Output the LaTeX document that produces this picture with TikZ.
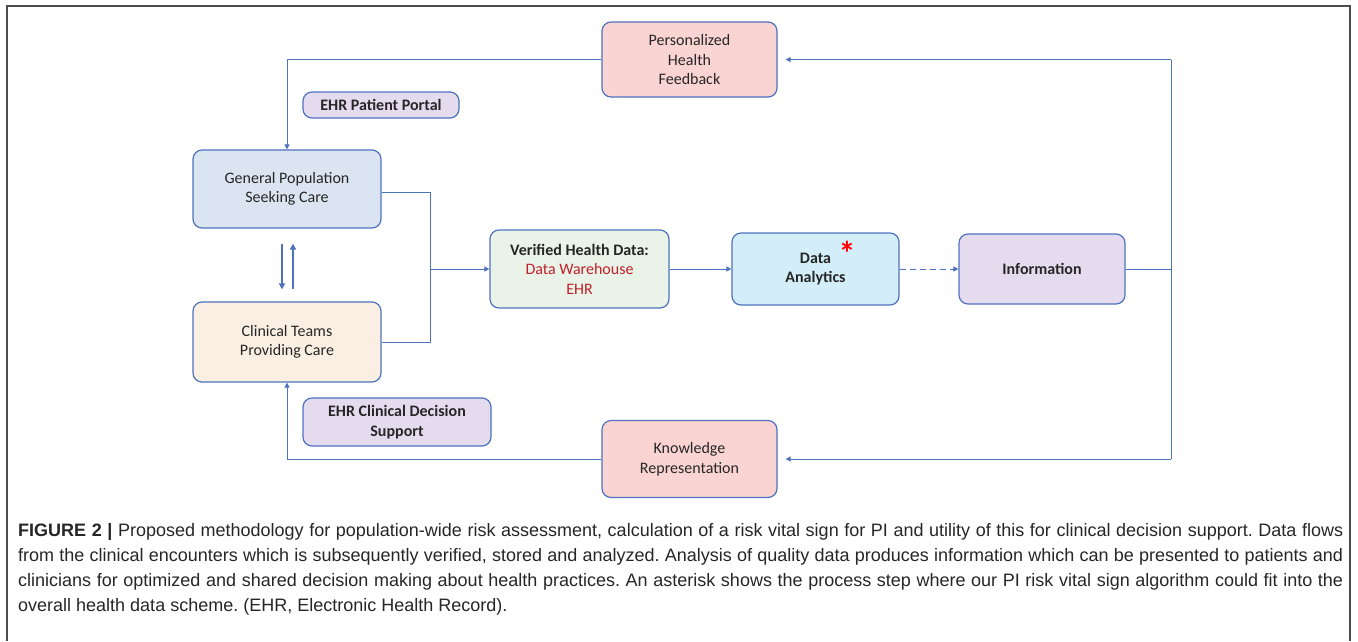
\documentclass[tikz,border=0pt]{standalone}
\usepackage{fontspec}
\setmainfont{Carlito}
\newfontfamily\capfont{Liberation Sans}
\usetikzlibrary{arrows.meta}
\frenchspacing
\definecolor{lineblue}{HTML}{4F72BE}
\definecolor{pinkfill}{HTML}{F9D4D2}
\definecolor{lavfill}{HTML}{E5DBEF}
\definecolor{bluefill}{HTML}{DBE4F1}
\definecolor{peachfill}{HTML}{FBEFE3}
\definecolor{greenfill}{HTML}{EAF3E7}
\definecolor{cyanfill}{HTML}{D4EEF9}
\definecolor{darkred}{HTML}{C0202A}
\definecolor{textgray}{HTML}{262626}
\tikzset{
  box/.style={draw=lineblue, line width=1.2pt, rounded corners=9pt, align=center,
    text=textgray, inner sep=0pt, font=\fontsize{16}{19.5}\selectfont},
  link/.style={draw=lineblue, line width=1pt},
  arrow/.style={link, -{Triangle[length=5pt,width=5pt]}},
  twoway/.style={draw=lineblue, line width=2pt, -{Triangle[length=6pt,width=6pt]}}
}
\begin{document}
\begin{tikzpicture}[x=1pt,y=-1pt]
\useasboundingbox (0,0) rectangle (1358,641);
% draw the frame
\draw[gray!60!black, line width=1.2pt] (7,641) -- (7,6) -- (1350,6) -- (1350,641);

% draw the boxes
\node[box, fill=pinkfill, minimum width=175pt, minimum height=75pt] (feedback) at (689.5,59.5)
  {Personalized\\Health\\Feedback};
\node[box, fill=lavfill, minimum width=156pt, minimum height=26pt] (portal) at (381,105)
  {\textbf{EHR Patient Portal}};
\node[box, fill=bluefill, minimum width=188pt, minimum height=78pt] (general) at (287,189)
  {General Population\\Seeking Care};
\node[box, fill=peachfill, minimum width=188pt, minimum height=80pt] (clinical) at (287,342)
  {Clinical Teams\\Providing Care};
\node[box, fill=greenfill, minimum width=179pt, minimum height=78pt] (verified) at (579.5,269)
  {\textbf{Verified Health Data:}\\\textcolor{darkred}{Data Warehouse}\\\textcolor{darkred}{EHR}};
\node[box, fill=cyanfill, minimum width=167pt, minimum height=72pt] (analytics) at (815.5,269)
  {\textbf{Data}\\\textbf{Analytics}};
\node[text=red, font=\fontsize{34}{34}\selectfont\bfseries, inner sep=0pt] (star) at (847,253) {*};
\node[box, fill=lavfill, minimum width=166pt, minimum height=70pt] (info) at (1042,269)
  {\textbf{Information}};
\node[box, fill=lavfill, minimum width=188pt, minimum height=48pt] (cds) at (397,422)
  {\textbf{EHR Clinical Decision}\\\textbf{Support}};
\node[box, fill=pinkfill, minimum width=175pt, minimum height=77pt] (knowledge) at (689.5,459)
  {Knowledge\\Representation};

% draw the connectors
\coordinate (join) at (430,269);
\coordinate (topright) at (1171,59.5);
\coordinate (botright) at (1171,459);
\draw[link] ([yshift=-3pt]general.east) -| (join);
\draw[link] (clinical.east) -| (join);
\draw[arrow] (join) -- (verified.west);
\draw[arrow] (verified) -- (analytics);
\draw[arrow, dashed, dash pattern=on 6pt off 4pt] (analytics) -- (info);
\draw[link] (info.east) -| (topright);
\draw[link] (info.east) -| (botright);
\draw[arrow] (topright) -- ([xshift=8pt]feedback.east);
\draw[arrow] (botright) -- ([xshift=8pt]knowledge.east);
\draw[arrow] (feedback.west) -| (general.north);
\draw[arrow] (knowledge.west) -| (clinical.south);
\draw[twoway] ([xshift=-5pt,yshift=-15pt]general.south) -- ([xshift=-5pt,yshift=12pt]clinical.north);
\draw[twoway] ([xshift=6pt,yshift=12pt]clinical.north) -- ([xshift=6pt,yshift=-15pt]general.south);

% draw the caption
\node[anchor=north west, text width=1325pt, align=justify, inner sep=0pt, text=textgray,
  font=\capfont\fontsize{18}{25}\selectfont] (caption) at (18,523) {%
  \textbf{FIGURE 2 |} Proposed methodology for population-wide risk assessment, calculation of a risk vital sign for PI and utility of this for clinical decision support. Data flows\linebreak
  from the clinical encounters which is subsequently verified, stored and analyzed. Analysis of quality data produces information which can be presented to patients and\linebreak
  clinicians for optimized and shared decision making about health practices. An asterisk shows the process step where our PI risk vital sign algorithm could fit into the\linebreak
  overall health data scheme. (EHR, Electronic Health Record).};
\end{tikzpicture}
\end{document}
